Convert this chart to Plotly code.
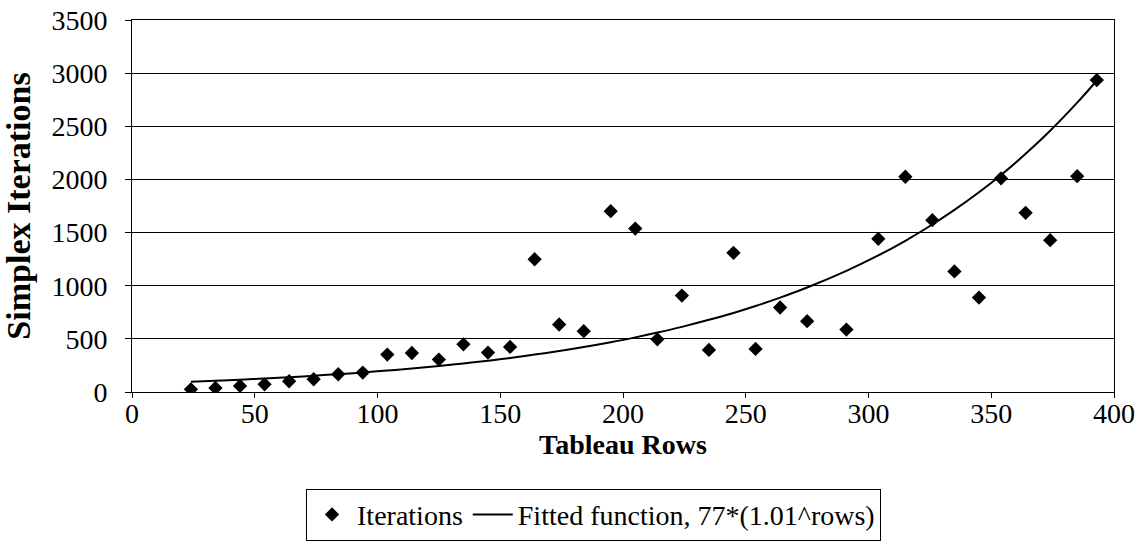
import plotly.graph_objects as go

# Data
rows = [24, 34, 44, 54, 64, 74, 84, 94, 104, 114, 125, 135, 145, 154, 164, 174, 184,
        195, 205, 214, 224, 235, 245, 254, 264, 275, 291, 304, 315, 326, 335, 345,
        354, 364, 374, 385, 393]
iterations = [25, 38, 57, 72, 101, 120, 167, 183, 352, 367, 305, 449, 371, 424, 1249,
              635, 572, 1701, 1538, 496, 907, 396, 1309, 405, 795, 666, 587, 1441, 2025,
              1617, 1134, 888, 2010, 1686, 1428, 2031, 2935]
fitted = [96, 105, 116, 127, 139, 153, 168, 184, 202, 221, 245, 269, 295, 320, 352,
          386, 423, 468, 514, 559, 613, 679, 744, 809, 888, 983, 1140, 1285, 1423, 1576,
          1713, 1879, 2042, 2241, 2458, 2722, 2931]

FONT = "Liberation Serif, Times New Roman, serif"

fig = go.Figure()
fig.add_trace(go.Scatter(
    x=rows, y=iterations, mode="markers", name="Iterations",
    marker=dict(symbol="diamond", size=11, color="black", line=dict(width=0)),
))
fig.add_trace(go.Scatter(
    x=rows, y=fitted, mode="lines", name="Fitted function, 77*(1.01^rows)",
    line=dict(color="black", width=2, shape="spline"),
))

fig.update_layout(
    width=1140, height=544,
    margin=dict(l=132, r=26, t=20, b=152, autoexpand=False),
    paper_bgcolor="white", plot_bgcolor="white",
    font=dict(family=FONT, size=28, color="black"),
    showlegend=True,
    legend=dict(
        orientation="h", x=0.47, xanchor="center", y=-0.26, yanchor="top",
        bordercolor="black", borderwidth=1, bgcolor="white",
        font=dict(family=FONT, size=28, color="black"),
        itemwidth=40, tracegroupgap=0,
    ),
)
fig.update_xaxes(
    range=[0, 400], dtick=50, tick0=0, automargin=False,
    showgrid=False, zeroline=False,
    showline=True, linecolor="black", linewidth=1, mirror=True,
    ticks="outside", ticklen=5, tickcolor="black", tickwidth=1,
    ticklabelstandoff=-9, ticklabeloverflow="allow",
    tickfont=dict(family=FONT, size=28, color="black"),
    title=dict(text="Tableau Rows", standoff=5,
               font=dict(family=FONT, size=28, color="black", weight="bold")),
)
fig.update_yaxes(
    range=[0, 3500], dtick=500, tick0=0, automargin=False,
    showgrid=True, gridcolor="black", gridwidth=1, zeroline=False,
    showline=True, linecolor="black", linewidth=1, mirror=True,
    ticks="outside", ticklen=6, tickcolor="black", tickwidth=1,
    ticklabelstandoff=12, ticklabeloverflow="allow",
    tickfont=dict(family=FONT, size=28, color="black"),
    title=dict(text="Simplex Iterations", standoff=10,
               font=dict(family=FONT, size=34, color="black", weight="bold")),
)

fig.write_html(
    "out.html",
    config={"displayModeBar": False},
    post_script="document.body.style.margin='0';document.body.style.overflow='hidden';",
)
